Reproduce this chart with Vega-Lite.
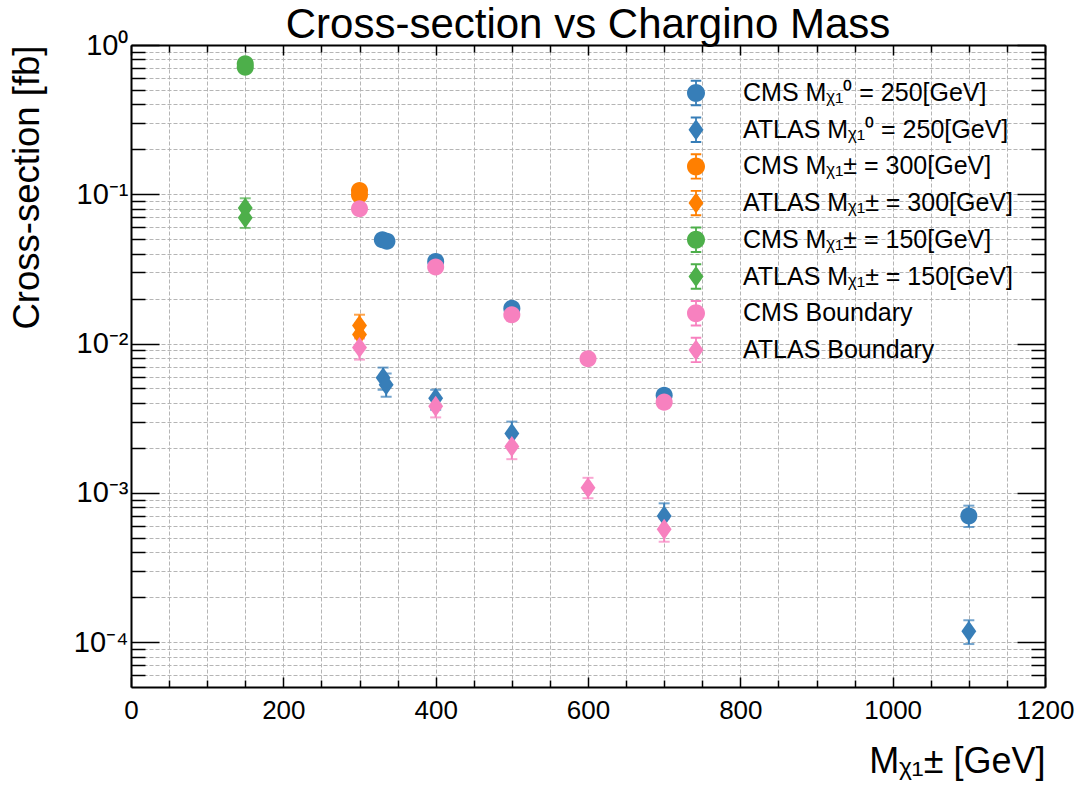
{
  "$schema": "https://vega.github.io/schema/vega-lite/v6.json",
  "width": 914,
  "height": 642,
  "autosize": "none",
  "padding": {"left": 131, "top": 45, "right": 37, "bottom": 100},
  "background": "white",
  "config": {"font": "Liberation Sans", "view": {"stroke": null}},
  "title": {"text": "Cross-section vs Chargino Mass", "fontSize": 42, "fontWeight": "normal", "color": "black", "anchor": "middle", "baseline": "alphabetic", "offset": 9, "dy": 58},
  "data": {"values": [
    {"s": "CMS Mᵪ₁⁰ = 250[GeV]", "m": 330, "xs": 0.0495, "lo": 0.0455, "hi": 0.054},
    {"s": "CMS Mᵪ₁⁰ = 250[GeV]", "m": 336, "xs": 0.0485, "lo": 0.0445, "hi": 0.053},
    {"s": "CMS Mᵪ₁⁰ = 250[GeV]", "m": 400, "xs": 0.0355, "lo": 0.0325, "hi": 0.0385},
    {"s": "CMS Mᵪ₁⁰ = 250[GeV]", "m": 500, "xs": 0.0172, "lo": 0.0158, "hi": 0.0187},
    {"s": "CMS Mᵪ₁⁰ = 250[GeV]", "m": 700, "xs": 0.0045, "lo": 0.0041, "hi": 0.0049},
    {"s": "CMS Mᵪ₁⁰ = 250[GeV]", "m": 1100, "xs": 0.0007, "lo": 0.00059, "hi": 0.00082},
    {"s": "ATLAS Mᵪ₁⁰ = 250[GeV]", "m": 331, "xs": 0.0059, "lo": 0.0049, "hi": 0.0069},
    {"s": "ATLAS Mᵪ₁⁰ = 250[GeV]", "m": 335, "xs": 0.0053, "lo": 0.0044, "hi": 0.0063},
    {"s": "ATLAS Mᵪ₁⁰ = 250[GeV]", "m": 400, "xs": 0.0043, "lo": 0.0036, "hi": 0.0049},
    {"s": "ATLAS Mᵪ₁⁰ = 250[GeV]", "m": 500, "xs": 0.0025, "lo": 0.0021, "hi": 0.003},
    {"s": "ATLAS Mᵪ₁⁰ = 250[GeV]", "m": 700, "xs": 0.0007, "lo": 0.00057, "hi": 0.00085},
    {"s": "ATLAS Mᵪ₁⁰ = 250[GeV]", "m": 1100, "xs": 0.000118, "lo": 0.000097, "hi": 0.00014},
    {"s": "CMS Mᵪ₁± = 300[GeV]", "m": 300, "xs": 0.106, "lo": 0.098, "hi": 0.115},
    {"s": "CMS Mᵪ₁± = 300[GeV]", "m": 300, "xs": 0.099, "lo": 0.092, "hi": 0.107},
    {"s": "ATLAS Mᵪ₁± = 300[GeV]", "m": 300, "xs": 0.0132, "lo": 0.011, "hi": 0.0156},
    {"s": "ATLAS Mᵪ₁± = 300[GeV]", "m": 300, "xs": 0.0115, "lo": 0.0096, "hi": 0.0136},
    {"s": "CMS Mᵪ₁± = 150[GeV]", "m": 150, "xs": 0.75, "lo": 0.7, "hi": 0.8},
    {"s": "CMS Mᵪ₁± = 150[GeV]", "m": 150, "xs": 0.71, "lo": 0.66, "hi": 0.76},
    {"s": "ATLAS Mᵪ₁± = 150[GeV]", "m": 150, "xs": 0.081, "lo": 0.069, "hi": 0.094},
    {"s": "ATLAS Mᵪ₁± = 150[GeV]", "m": 150, "xs": 0.0697, "lo": 0.0595, "hi": 0.081},
    {"s": "CMS Boundary", "m": 300, "xs": 0.08, "lo": 0.074, "hi": 0.086},
    {"s": "CMS Boundary", "m": 400, "xs": 0.0326, "lo": 0.0302, "hi": 0.035},
    {"s": "CMS Boundary", "m": 500, "xs": 0.0156, "lo": 0.0144, "hi": 0.0168},
    {"s": "CMS Boundary", "m": 600, "xs": 0.0079, "lo": 0.0073, "hi": 0.0085},
    {"s": "CMS Boundary", "m": 700, "xs": 0.00405, "lo": 0.0037, "hi": 0.0044},
    {"s": "ATLAS Boundary", "m": 300, "xs": 0.0094, "lo": 0.0078, "hi": 0.0108},
    {"s": "ATLAS Boundary", "m": 400, "xs": 0.0038, "lo": 0.0032, "hi": 0.0044},
    {"s": "ATLAS Boundary", "m": 500, "xs": 0.00204, "lo": 0.00168, "hi": 0.0024},
    {"s": "ATLAS Boundary", "m": 600, "xs": 0.00108, "lo": 0.00092, "hi": 0.00126},
    {"s": "ATLAS Boundary", "m": 700, "xs": 0.00057, "lo": 0.00047, "hi": 0.00067}
  ]},
  "resolve": {"axis": {"x": "independent", "y": "independent"}},
  "layer": [
    {
      "mark": {"type": "rule", "strokeWidth": 2},
      "encoding": {
        "x": {"field": "m", "type": "quantitative", "scale": {"domain": [0, 1200], "nice": false, "zero": false},
          "axis": {"orient": "bottom", "values": [0,50,100,150,200,250,300,350,400,450,500,550,600,650,700,750,800,850,900,950,1000,1050,1100,1150,1200],
            "format": "d", "labelExpr": "datum.value % 200 === 0 ? datum.label : ''", "labelFontSize": 26, "labelColor": "black", "labelPadding": 20, "labelFlush": false, "labelOverlap": false,
            "tickSize": {"condition": {"test": "datum.value % 200 === 0", "value": -10}, "value": -7}, "tickColor": "black", "tickWidth": 1.5,
            "domainColor": "black", "domainWidth": 2, "grid": true, "gridDash": [4, 2], "gridColor": "#b5b5b5", "gridWidth": 1,
            "title": "Mᵪ₁± [GeV]", "titleFontSize": 36, "titleFontWeight": "normal", "titleColor": "black", "titleAnchor": "end", "titlePadding": 18}},
        "y": {"field": "lo", "type": "quantitative", "scale": {"type": "log", "domain": [0.00005, 1], "nice": false},
          "axis": {"orient": "left", "values": [0.00006,0.00007,0.00008,0.00009,0.0001,0.0002,0.0003,0.0004,0.0005,0.0006,0.0007,0.0008,0.0009,0.001,0.002,0.003,0.004,0.005,0.006,0.007,0.008,0.009,0.01,0.02,0.03,0.04,0.05,0.06,0.07,0.08,0.09,0.1,0.2,0.3,0.4,0.5,0.6,0.7,0.8,0.9,1],
            "labelExpr": "abs(log(datum.value)/LN10 - round(log(datum.value)/LN10)) < 0.001 ? (round(log(datum.value)/LN10) === 0 ? '10⁰' : '10⁻' + ['','¹','²','³','⁴','⁵'][-round(log(datum.value)/LN10)]) : ''",
            "labelFontSize": 29, "labelColor": "black", "labelPadding": 31, "labelFlush": false, "labelOverlap": false,
            "tickSize": {"condition": {"test": "abs(log(datum.value)/LN10 - round(log(datum.value)/LN10)) < 0.001", "value": -28}, "value": -14}, "tickColor": "black", "tickWidth": 1.5,
            "domainColor": "black", "domainWidth": 2, "grid": true, "gridDash": [4, 2], "gridColor": "#b5b5b5", "gridWidth": 1,
            "title": "Cross-section [fb]", "titleFontSize": 36.5, "titleFontWeight": "normal", "titleColor": "black", "titleAnchor": "end", "titlePadding": 27}},
        "y2": {"field": "hi"},
        "color": {"field": "s", "type": "nominal", "legend": null,
          "scale": {"domain": ["ATLAS Boundary", "CMS Boundary", "ATLAS Mᵪ₁± = 150[GeV]", "CMS Mᵪ₁± = 150[GeV]", "ATLAS Mᵪ₁± = 300[GeV]", "CMS Mᵪ₁± = 300[GeV]", "ATLAS Mᵪ₁⁰ = 250[GeV]", "CMS Mᵪ₁⁰ = 250[GeV]"],
            "range": ["#f781bf", "#f781bf", "#4daf4a", "#4daf4a", "#ff7f00", "#ff7f00", "#377eb8", "#377eb8"]}}
      }
    },
    {
      "mark": {"type": "tick", "orient": "horizontal", "size": 11, "thickness": 2},
      "encoding": {
        "x": {"field": "m", "type": "quantitative", "scale": {"domain": [0, 1200], "nice": false, "zero": false},
          "axis": {"orient": "top", "values": [0,50,100,150,200,250,300,350,400,450,500,550,600,650,700,750,800,850,900,950,1000,1050,1100,1150,1200],
            "labels": false, "grid": false, "title": null,
            "tickSize": {"condition": {"test": "datum.value % 200 === 0", "value": -10}, "value": -7}, "tickColor": "black", "tickWidth": 1.5,
            "domainColor": "black", "domainWidth": 2}},
        "y": {"field": "lo", "type": "quantitative", "scale": {"type": "log", "domain": [0.00005, 1], "nice": false},
          "axis": {"orient": "right", "values": [0.00006,0.00007,0.00008,0.00009,0.0001,0.0002,0.0003,0.0004,0.0005,0.0006,0.0007,0.0008,0.0009,0.001,0.002,0.003,0.004,0.005,0.006,0.007,0.008,0.009,0.01,0.02,0.03,0.04,0.05,0.06,0.07,0.08,0.09,0.1,0.2,0.3,0.4,0.5,0.6,0.7,0.8,0.9,1],
            "labels": false, "grid": false, "title": null,
            "tickSize": {"condition": {"test": "abs(log(datum.value)/LN10 - round(log(datum.value)/LN10)) < 0.001", "value": -28}, "value": -14}, "tickColor": "black", "tickWidth": 1.5,
            "domainColor": "black", "domainWidth": 2}},
        "color": {"field": "s", "type": "nominal", "legend": null}
      }
    },
    {
      "mark": {"type": "tick", "orient": "horizontal", "size": 11, "thickness": 2},
      "encoding": {
        "x": {"field": "m", "type": "quantitative", "axis": null},
        "y": {"field": "hi", "type": "quantitative", "axis": null},
        "color": {"field": "s", "type": "nominal", "legend": null}
      }
    },
    {
      "transform": [{"filter": "indexof(datum.s, 'CMS') === 0"}],
      "mark": {"type": "point", "filled": true, "opacity": 1, "size": 441, "strokeWidth": 0, "shape": "M0.81,0A0.81,0.81 0 1,1 -0.81,0A0.81,0.81 0 1,1 0.81,0Z"},
      "encoding": {
        "x": {"field": "m", "type": "quantitative", "axis": null},
        "y": {"field": "xs", "type": "quantitative", "axis": null},
        "color": {"field": "s", "type": "nominal", "legend": null}
      }
    },
    {
      "transform": [{"filter": "indexof(datum.s, 'ATLAS') === 0"}],
      "mark": {"type": "point", "filled": true, "opacity": 1, "size": 441, "strokeWidth": 0, "shape": "M0,-1L0.71,0L0,1L-0.71,0Z"},
      "encoding": {
        "x": {"field": "m", "type": "quantitative", "axis": null},
        "y": {"field": "xs", "type": "quantitative", "axis": null},
        "color": {"field": "s", "type": "nominal", "legend": null}
      }
    },
    {
      "transform": [{"filter": "false"}],
      "mark": {"type": "point", "filled": true, "opacity": 1, "strokeWidth": 0},
      "encoding": {
        "x": {"field": "m", "type": "quantitative", "axis": null},
        "y": {"field": "xs", "type": "quantitative", "axis": null},
        "fill": {"field": "s", "type": "nominal",
          "scale": {"domain": ["CMS Mᵪ₁⁰ = 250[GeV]", "ATLAS Mᵪ₁⁰ = 250[GeV]", "CMS Mᵪ₁± = 300[GeV]", "ATLAS Mᵪ₁± = 300[GeV]", "CMS Mᵪ₁± = 150[GeV]", "ATLAS Mᵪ₁± = 150[GeV]", "CMS Boundary", "ATLAS Boundary"],
            "range": ["#377eb8", "#377eb8", "#ff7f00", "#ff7f00", "#4daf4a", "#4daf4a", "#f781bf", "#f781bf"]},
          "legend": {"orient": "none", "legendX": 550, "legendY": 33, "title": null, "labelFontSize": 25, "labelColor": "black", "labelFont": "Liberation Sans",
            "symbolSize": 900, "labelOffset": 32, "rowPadding": 7.7, "padding": 0, "labelLimit": 500, "symbolStrokeWidth": 0, "symbolOpacity": 1}},
        "shape": {"field": "s", "type": "nominal",
          "scale": {"domain": ["CMS Mᵪ₁⁰ = 250[GeV]", "ATLAS Mᵪ₁⁰ = 250[GeV]", "CMS Mᵪ₁± = 300[GeV]", "ATLAS Mᵪ₁± = 300[GeV]", "CMS Mᵪ₁± = 150[GeV]", "ATLAS Mᵪ₁± = 150[GeV]", "CMS Boundary", "ATLAS Boundary"],
            "range": [
              "M0.6,0A0.6,0.6 0 1,1 -0.6,0A0.6,0.6 0 1,1 0.6,0Z M-0.06,-0.8L0.06,-0.8L0.06,0.8L-0.06,0.8Z M-0.35,-0.88L0.35,-0.88L0.35,-0.75L-0.35,-0.75Z M-0.35,0.75L0.35,0.75L0.35,0.88L-0.35,0.88Z",
              "M0,-0.7L0.5,0L0,0.7L-0.5,0Z M-0.06,-0.8L0.06,-0.8L0.06,0.8L-0.06,0.8Z M-0.35,-0.88L0.35,-0.88L0.35,-0.75L-0.35,-0.75Z M-0.35,0.75L0.35,0.75L0.35,0.88L-0.35,0.88Z",
              "M0.6,0A0.6,0.6 0 1,1 -0.6,0A0.6,0.6 0 1,1 0.6,0Z M-0.06,-0.8L0.06,-0.8L0.06,0.8L-0.06,0.8Z M-0.35,-0.88L0.35,-0.88L0.35,-0.75L-0.35,-0.75Z M-0.35,0.75L0.35,0.75L0.35,0.88L-0.35,0.88Z",
              "M0,-0.7L0.5,0L0,0.7L-0.5,0Z M-0.06,-0.8L0.06,-0.8L0.06,0.8L-0.06,0.8Z M-0.35,-0.88L0.35,-0.88L0.35,-0.75L-0.35,-0.75Z M-0.35,0.75L0.35,0.75L0.35,0.88L-0.35,0.88Z",
              "M0.6,0A0.6,0.6 0 1,1 -0.6,0A0.6,0.6 0 1,1 0.6,0Z M-0.06,-0.8L0.06,-0.8L0.06,0.8L-0.06,0.8Z M-0.35,-0.88L0.35,-0.88L0.35,-0.75L-0.35,-0.75Z M-0.35,0.75L0.35,0.75L0.35,0.88L-0.35,0.88Z",
              "M0,-0.7L0.5,0L0,0.7L-0.5,0Z M-0.06,-0.8L0.06,-0.8L0.06,0.8L-0.06,0.8Z M-0.35,-0.88L0.35,-0.88L0.35,-0.75L-0.35,-0.75Z M-0.35,0.75L0.35,0.75L0.35,0.88L-0.35,0.88Z",
              "M0.6,0A0.6,0.6 0 1,1 -0.6,0A0.6,0.6 0 1,1 0.6,0Z M-0.06,-0.8L0.06,-0.8L0.06,0.8L-0.06,0.8Z M-0.35,-0.88L0.35,-0.88L0.35,-0.75L-0.35,-0.75Z M-0.35,0.75L0.35,0.75L0.35,0.88L-0.35,0.88Z",
              "M0,-0.7L0.5,0L0,0.7L-0.5,0Z M-0.06,-0.8L0.06,-0.8L0.06,0.8L-0.06,0.8Z M-0.35,-0.88L0.35,-0.88L0.35,-0.75L-0.35,-0.75Z M-0.35,0.75L0.35,0.75L0.35,0.88L-0.35,0.88Z"]},
          "legend": {"orient": "none", "legendX": 550, "legendY": 33, "title": null, "labelFontSize": 25, "labelColor": "black", "labelFont": "Liberation Sans",
            "symbolSize": 900, "labelOffset": 32, "rowPadding": 7.7, "padding": 0, "labelLimit": 500, "symbolStrokeWidth": 0, "symbolOpacity": 1}}
      }
    }
  ]
}
